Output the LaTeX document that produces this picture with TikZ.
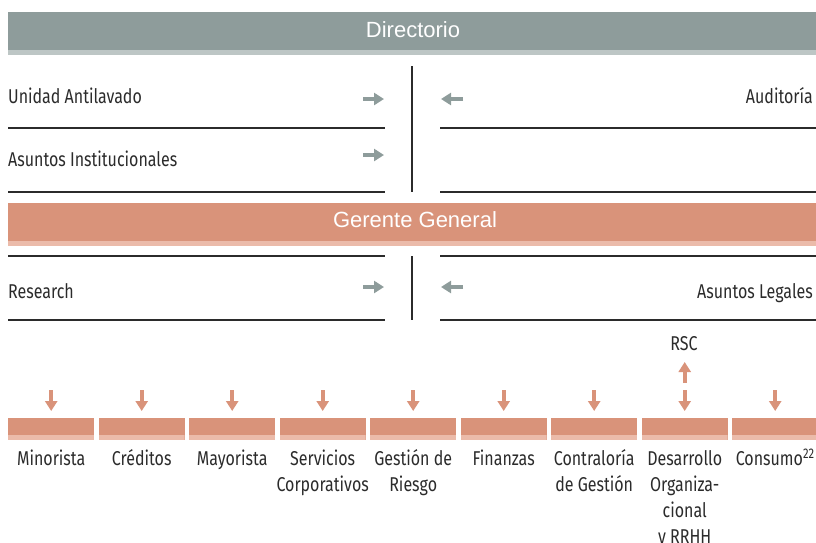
\documentclass[tikz,border=0pt]{standalone}
\usepackage{fontspec}
\setmainfont{Fira Sans}[FakeStretch=0.8]
\newfontfamily\barfont{Liberation Sans}
\usetikzlibrary{arrows.meta, positioning}
\definecolor{dirgray}{RGB}{142,156,155}
\definecolor{dirlight}{RGB}{189,198,197}
\definecolor{salmon}{RGB}{217,147,122}
\definecolor{salmonlight}{RGB}{235,187,170}
\definecolor{ink}{RGB}{43,43,43}

\begin{document}
\begin{tikzpicture}[x=1pt, y=-1pt,
        every node/.style = {inner sep=0pt, text=ink,
            font=\fontsize{20}{26}\selectfont},
        headbar/.style 2 args = {rectangle, anchor=north west, fill=#1,
            minimum width=808pt, minimum height=43pt,
            path picture={\fill[#2] (path picture bounding box.south west)
                rectangle ([yshift=5pt]path picture bounding box.south east);}},
        unitbar/.style = {rectangle, anchor=north west, fill=salmon,
            minimum width=86pt, minimum height=22pt,
            path picture={\fill[salmonlight] (path picture bounding box.south west)
                rectangle ([yshift=5pt]path picture bounding box.south east);}},
        bartext/.style = {text=white, anchor=base,
            font=\barfont\fontsize{22}{26}\selectfont},
        unitlabel/.style = {anchor=north, align=center},
        rule/.style = {line width=1.2pt, draw=ink},
        sidearrow/.style = {line width=4pt, draw=dirgray,
            -{Triangle[length=10pt, width=12pt]}},
        downarrow/.style = {line width=4pt, draw=salmon,
            -{Triangle[length=10pt, width=12pt]}}]
    \useasboundingbox (0,0) rectangle (816,542);

    % heads
    \node [headbar={dirgray}{dirlight}] (dir) at (8,12) {};
    \node [bartext] (dirtxt) at (413,37) {Directorio};
    \node [headbar={salmon}{salmonlight}] (gg) at (8,203) {};
    \node [bartext] (ggtxt) at (415,227) {Gerente General};

    % staff units
    \node [anchor=base west] (ual) at (8,103) {Unidad Antilavado};
    \node [anchor=base west] (ains) at (8,166) {Asuntos Institucionales};
    \node [anchor=base east] (aud) at (813,103) {Auditoría};
    \node [anchor=base west] (res) at (8,298) {Research};
    \node [anchor=base east] (aleg) at (813,298) {Asuntos Legales};

    \foreach \y in {128, 192, 256, 320} {
        \draw [rule] (8,\y) -- (385,\y);
        \draw [rule] (440,\y) -- (816,\y);
    }
    \draw [rule] (412,66) -- (412,192);
    \draw [rule] (412,256) -- (412,320);

    \foreach \y/\n in {99/ua, 155/ai, 287/re} {
        \coordinate (\n) at (363,\y);
        \draw [sidearrow] (\n) -- ++(21,0);
    }
    \foreach \y/\n in {99/au, 287/al} {
        \coordinate (\n) at (463,\y);
        \draw [sidearrow] (\n) -- ++(-22,0);
    }

    % divisions
    \foreach \name [count=\i] in {Minorista, Créditos, Mayorista,
            {Servicios\\Corporativos}, {Gestión de\\Riesgo}, Finanzas,
            {Contraloría\\de Gestión}, {Desarrollo\\Organiza-\\cional\\y RRHH},
            Consumo\textsuperscript{22}} {
        \pgfmathsetmacro\bx{8+(\i-1)*90.5}
        \node [unitbar] (b\i) at (\bx,418) {};
        \node [unitlabel] (l\i) at ([yshift=-6pt]b\i.south)
            {\rule{0pt}{19pt}\name};
        \draw [downarrow] ([yshift=28pt]b\i.north) -- ([yshift=7pt]b\i.north);
    }

    \node [anchor=base] (rsc) at (684,350) {RSC};
    \draw [downarrow] ([yshift=35pt]b8.north) -- ([yshift=56pt]b8.north);
\end{tikzpicture}
\end{document}
